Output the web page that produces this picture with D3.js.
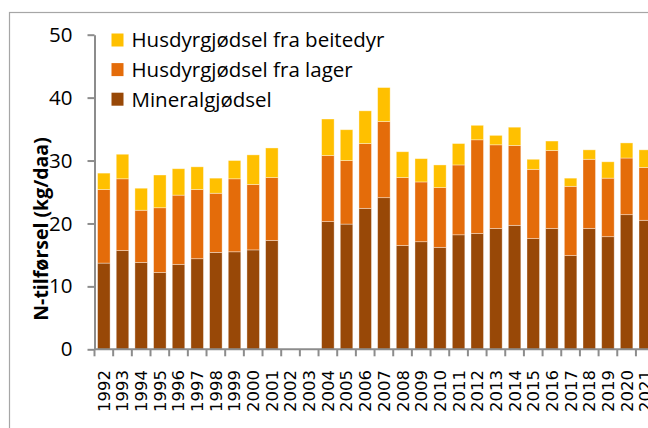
<!DOCTYPE html>
<html>
<head>
<meta charset="utf-8">
<script src="https://cdn.jsdelivr.net/npm/d3@7"></script>
<style>
  html, body { margin: 0; padding: 0; background: #fff; }
  svg { display: block; }
</style>
</head>
<body>
<svg id="chart" width="648" height="428"></svg>
<script>
// Nitrogen supply per year (kg/daa), stacked by source
const years = ["1992","1993","1994","1995","1996","1997","1998","1999","2000","2001",
  "2002","2003","2004","2005","2006","2007","2008","2009","2010","2011","2012","2013",
  "2014","2015","2016","2017","2018","2019","2020","2021"];
const mineral = [13.7,15.7,13.8,12.2,13.5,14.4,15.4,15.5,15.8,17.3,
  null,null,20.3,19.9,22.4,24.1,16.5,17.1,16.2,18.2,18.4,19.2,
  19.7,17.6,19.2,14.9,19.2,17.9,21.4,20.5];
const lager = [11.7,11.4,8.3,10.3,11.0,11.0,9.4,11.6,10.4,10.0,
  null,null,10.5,10.1,10.3,12.1,10.8,9.5,9.5,11.1,14.9,13.3,
  12.7,11.0,12.4,11.0,11.0,9.3,9.0,8.4];
const beite = [2.6,3.9,3.5,5.2,4.2,3.6,2.4,2.9,4.7,4.7,
  null,null,5.8,4.9,5.2,5.4,4.1,3.7,3.6,3.4,2.3,1.5,
  2.9,1.6,1.5,1.3,1.5,2.6,2.4,2.8];
const seriesNames = ["Mineralgjødsel","Husdyrgjødsel fra lager","Husdyrgjødsel fra beitedyr"];
const seriesColors = ["#984807","#E46C0A","#FFC000"];
const yTicks = [0,10,20,30,40,50];
const yTitle = "N-tilførsel (kg/daa)";

const svg = d3.select("#chart");
const axisColor = "#8c8c8c";
const font = "'Open Sans', sans-serif";

// outer chart frame (continues past the right and bottom edges)
svg.append("rect")
  .attr("x", 9.5).attr("y", 12.5)
  .attr("width", 700).attr("height", 500)
  .attr("fill", "none").attr("stroke", "#a6a6a6").attr("stroke-width", 1.2);

const x = d3.scaleBand().domain(years).range([94.5, 654.6]).paddingInner(0.33).paddingOuter(0.165);
const y = d3.scaleLinear().domain([0, 50]).range([349.3, 34.7]);

const rows = years.map((yr, i) => ({ year: yr, m: mineral[i], l: lager[i], b: beite[i] }))
  .filter(d => d.m !== null);
const stack = d3.stack().keys(["m","l","b"]);
const layers = stack(rows);

const g = svg.append("g");
layers.forEach((layer, k) => {
  g.selectAll(null).data(layer).enter().append("rect")
    .attr("x", d => x(d.data.year))
    .attr("width", x.bandwidth())
    .attr("y", d => y(d[1]))
    .attr("height", d => y(d[0]) - y(d[1]))
    .attr("fill", seriesColors[k])
    .attr("stroke", "#ffffff").attr("stroke-opacity", 0.45).attr("stroke-width", 0.8);
});

// y axis
const yAxis = d3.axisLeft(y).tickValues(yTicks).tickSize(7).tickSizeOuter(0).tickPadding(15);
const ya = svg.append("g").attr("transform", "translate(94.5,0)").call(yAxis);
ya.select(".domain").attr("stroke", axisColor).attr("stroke-width", 2);
ya.selectAll(".tick line").attr("stroke", axisColor).attr("stroke-width", 2);
ya.selectAll(".tick text").attr("font-family", font).attr("font-size", 20.5).attr("fill", "#000");

// x axis with ticks on band boundaries
const xa = svg.append("g").attr("transform", "translate(0,349.3)");
xa.append("line").attr("x1", 94.5).attr("x2", 660).attr("stroke", axisColor).attr("stroke-width", 2);
const step = x.step();
xa.selectAll(".xt").data(d3.range(years.length + 1)).enter().append("line")
  .attr("x1", i => 94.5 + i * step).attr("x2", i => 94.5 + i * step)
  .attr("y1", 0).attr("y2", 7).attr("stroke", axisColor).attr("stroke-width", 2);
xa.selectAll(".xl").data(years).enter().append("text")
  .attr("transform", d => `translate(${x(d) + x.bandwidth() / 2},${370 - 349.3}) rotate(-90)`)
  .attr("text-anchor", "end").attr("dy", "0.36em")
  .attr("font-family", "'DejaVu Sans', sans-serif").attr("font-size", 16.5).attr("fill", "#000")
  .text(d => d);

// y axis title
svg.append("text")
  .attr("transform", "translate(48,229) rotate(-90)")
  .attr("text-anchor", "middle")
  .attr("font-family", font).attr("font-weight", "bold").attr("font-size", 19.5)
  .attr("fill", "#000")
  .text(yTitle);

// legend, top entry first
const legendOrder = [2, 1, 0];
const lg = svg.append("g");
legendOrder.forEach((k, r) => {
  const cy = 40 + r * 29.6;
  lg.append("rect").attr("x", 111.5).attr("y", cy - 6.5).attr("width", 12).attr("height", 13)
    .attr("fill", seriesColors[k]);
  lg.append("text").attr("x", 131.5).attr("y", cy).attr("dy", "0.36em")
    .attr("font-family", font).attr("font-size", 20.5).attr("fill", "#000")
    .text(seriesNames[k]);
});
</script>
</body>
</html>
